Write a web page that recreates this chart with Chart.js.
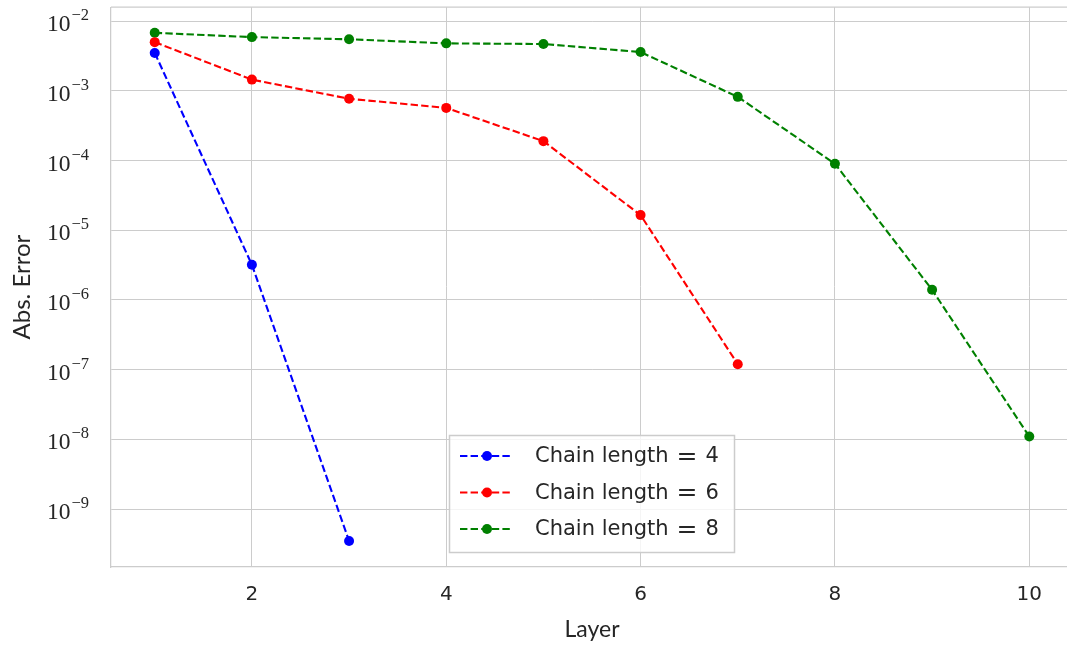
<!DOCTYPE html>
<html>
<head>
<meta charset="utf-8">
<script src="https://cdn.jsdelivr.net/npm/chart.js@4.4.1/dist/chart.umd.min.js"></script>
<style>
  html, body { margin: 0; padding: 0; background: #ffffff; overflow: hidden; }
  #wrap { width: 1067px; height: 646px; overflow: hidden; position: relative; }
  #c { position: absolute; left: 0; top: 0; }
</style>
</head>
<body>
<div id="wrap"><canvas id="c" width="1078" height="646"></canvas></div>
<script>
// ---- data ----
const layers4 = [1, 2, 3];
const err4 = [3.5e-3, 3.2e-6, 3.5e-10];

const layers6 = [1, 2, 3, 4, 5, 6, 7];
const err6 = [5.0e-3, 1.45e-3, 7.7e-4, 5.7e-4, 1.9e-4, 1.65e-5, 1.2e-7];

const layers8 = [1, 2, 3, 4, 5, 6, 7, 8, 9, 10];
const err8 = [6.8e-3, 5.9e-3, 5.5e-3, 4.8e-3, 4.7e-3, 3.6e-3, 8.2e-4, 9.0e-5, 1.4e-6, 1.1e-8];

const seriesLabels = ['Chain length = 4', 'Chain length = 6', 'Chain length = 8'];
const xTicks = [2, 4, 6, 8, 10];
const yTickExponents = [-9, -8, -7, -6, -5, -4, -3, -2];
const xTitle = 'Layer';
const yTitle = 'Abs. Error';

// ---- styling ----
const colors = ['#0000ff', '#ff0000', '#008000'];
const gridColor = '#cccccc';
const textColor = '#262626';
const dash = [7.4, 3.2];

function pts(xs, ys) { return xs.map((x, i) => ({ x: x, y: ys[i] })); }

function mkDataset(label, xs, ys, color) {
  return {
    label: label,
    data: pts(xs, ys),
    borderColor: color,
    backgroundColor: color,
    borderWidth: 2.1,
    borderDash: dash,
    pointRadius: 5,
    pointHoverRadius: 5,
    pointBorderWidth: 0,
    pointBackgroundColor: color,
    fill: false,
    tension: 0
  };
}

const superMap = { '-': '\u2212' };

const framePlugin = {
  id: 'frame',
  beforeDatasetsDraw(chart) {
    const { ctx, chartArea } = chart;
    ctx.save();
    ctx.strokeStyle = gridColor;
    ctx.lineWidth = 1.25;
    ctx.beginPath();
    ctx.moveTo(chartArea.left, chartArea.top);
    ctx.lineTo(chartArea.right, chartArea.top);
    ctx.stroke();
    ctx.restore();
  }
};

const yLabelPlugin = {
  id: 'yLabels',
  afterDraw(chart) {
    const { ctx } = chart;
    const ys = chart.scales.y;
    ctx.save();
    ctx.fillStyle = textColor;
    const baseFont = '23.5px "Liberation Serif", "DejaVu Serif", serif';
    const supFont = '16.5px "Liberation Serif", "DejaVu Serif", serif';
    const rightX = 89;
    yTickExponents.forEach(e => {
      const py = ys.getPixelForValue(Math.pow(10, e));
      const sup = String(e).split('').map(ch => superMap[ch] || ch).join('');
      ctx.font = supFont;
      const wSup = ctx.measureText(sup).width;
      ctx.font = baseFont;
      const wBase = ctx.measureText('10').width;
      const x0 = rightX - wSup - wBase - 1;
      ctx.textAlign = 'left';
      ctx.textBaseline = 'alphabetic';
      ctx.fillText('10', x0, py + 10);
      ctx.font = supFont;
      ctx.fillText(sup, x0 + wBase + 1, py - 1);
    });
    ctx.restore();
  }
};

const legendPlugin = {
  id: 'customLegend',
  afterDraw(chart) {
    const { ctx } = chart;
    ctx.save();
    const bx = 449.5, by = 435.5, bw = 285, bh = 117;
    ctx.fillStyle = 'rgba(255,255,255,0.8)';
    ctx.fillRect(bx, by, bw, bh);
    ctx.strokeStyle = gridColor;
    ctx.lineWidth = 1.5;
    ctx.setLineDash([]);
    ctx.strokeRect(bx, by, bw, bh);
    chart.data.datasets.forEach((ds, i) => {
      const cy = 456 + i * 36.5;
      ctx.strokeStyle = ds.borderColor;
      ctx.lineWidth = ds.borderWidth;
      ctx.setLineDash(ds.borderDash);
      ctx.beginPath();
      ctx.moveTo(460, cy);
      ctx.lineTo(512, cy);
      ctx.stroke();
      ctx.setLineDash([]);
      ctx.fillStyle = ds.borderColor;
      ctx.beginPath();
      ctx.arc(487, cy, 5, 0, Math.PI * 2);
      ctx.fill();
      // label: text part, then math-style "= n" with wider spacing
      ctx.fillStyle = textColor;
      ctx.textAlign = 'left';
      ctx.textBaseline = 'middle';
      const parts = ds.label.split('=');
      const left = parts[0].trim();
      const right = (parts[1] || '').trim();
      ctx.font = '21px "DejaVu Sans", sans-serif';
      let x = 535;
      ctx.fillText(left, x, cy + 1);
      x += ctx.measureText(left).width + 8;
      if (parts.length > 1) {
        ctx.font = '25px "DejaVu Sans", sans-serif';
        ctx.fillText('=', x, cy + 1);
        x += ctx.measureText('=').width + 8;
        ctx.font = '21px "DejaVu Sans", sans-serif';
        ctx.fillText(right, x, cy + 1);
      }
    });
    ctx.restore();
  }
};

new Chart(document.getElementById('c'), {
  type: 'line',
  data: {
    datasets: [
      mkDataset(seriesLabels[0], layers4, err4, colors[0]),
      mkDataset(seriesLabels[1], layers6, err6, colors[1]),
      mkDataset(seriesLabels[2], layers8, err8, colors[2])
    ]
  },
  options: {
    responsive: false,
    animation: false,
    events: [],
    layout: { padding: { top: 5, left: 0, right: 0, bottom: 0 } },
    plugins: {
      legend: { display: false },
      tooltip: { enabled: false },
      title: { display: false }
    },
    scales: {
      x: {
        type: 'linear',
        min: 0.55,
        max: 10.45,
        afterBuildTicks: (s) => { s.ticks = xTicks.map(v => ({ value: v })); },
        afterFit: (s) => { s.height = 79; },
        ticks: {
          color: textColor,
          font: { family: '"DejaVu Sans", sans-serif', size: 20 },
          padding: 16,
          callback: (v) => String(v)
        },
        grid: { color: gridColor, lineWidth: 1, drawTicks: false },
        border: { color: gridColor, width: 1.25 },
        title: {
          display: true,
          text: xTitle,
          color: textColor,
          font: { family: 'Lato, "DejaVu Sans", sans-serif', size: 23 },
          padding: { top: 0, bottom: 3 }
        }
      },
      y: {
        type: 'logarithmic',
        min: Math.pow(10, -9.83),
        max: Math.pow(10, -1.8),
        afterBuildTicks: (s) => { s.ticks = yTickExponents.map(e => ({ value: Math.pow(10, e) })); },
        afterFit: (s) => { s.width = 111; },
        ticks: {
          callback: () => '',
          padding: 0
        },
        grid: { color: gridColor, lineWidth: 1, drawTicks: false },
        border: { color: gridColor, width: 1.25 },
        title: {
          display: true,
          text: yTitle,
          color: textColor,
          font: { family: 'Lato, "DejaVu Sans", sans-serif', size: 24 },
          padding: { top: 8, bottom: 0 }
        }
      }
    }
  },
  plugins: [framePlugin, yLabelPlugin, legendPlugin]
});
</script>
</body>
</html>
